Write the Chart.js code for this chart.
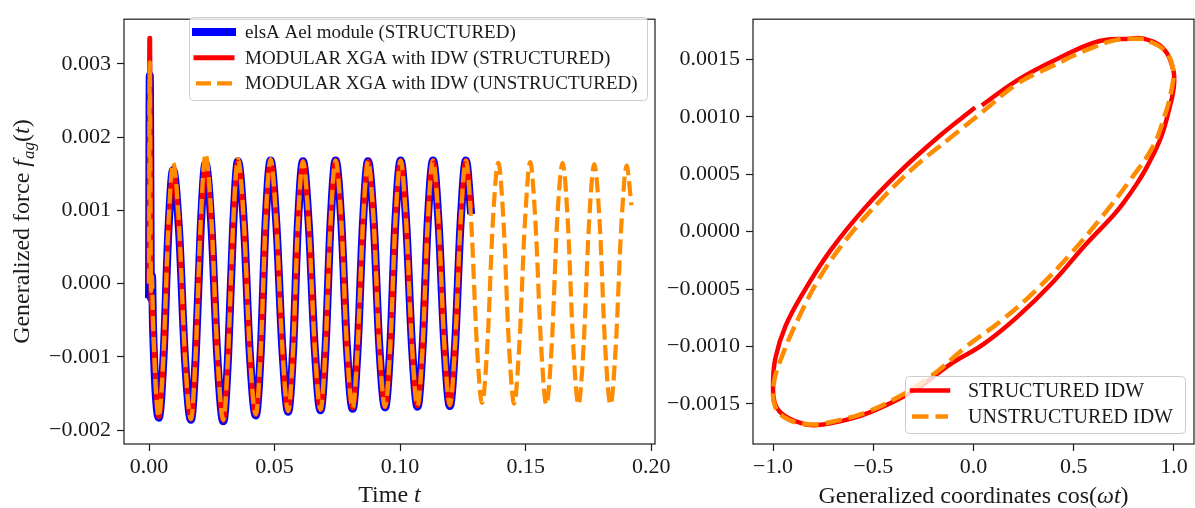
<!DOCTYPE html>
<html>
<head>
<meta charset="utf-8">
<title>Generalized force</title>
<script src="https://cdn.jsdelivr.net/npm/chart.js@4/dist/chart.umd.min.js"></script>
<style>
  html, body { margin: 0; padding: 0; background: #fff; }
  #page { position: relative; width: 1195px; height: 508px; overflow: hidden; }
  #forceChart { position: absolute; left: 0; top: 0; }
  #loopChart { position: absolute; left: 660px; top: 0; }
</style>
</head>
<body>
<div id="page">
  <canvas id="forceChart" width="690" height="508"></canvas>
  <canvas id="loopChart" width="535" height="508"></canvas>
</div>
<script>
// ---- left panel: generalized force against time ----
const timeSteps = [
  0, 0.0003, 0.0008, 0.0012, 0.0016,
  0.0039, 0.0058, 0.0077, 0.0096, 0.0120, 0.0143,
  0.0167, 0.0186, 0.0206, 0.0225, 0.0249, 0.0272,
  0.0296, 0.0315, 0.0335, 0.0354, 0.0378, 0.0401,
  0.0425, 0.0445, 0.0464, 0.0484, 0.0507, 0.0531,
  0.0554, 0.0574, 0.0593, 0.0613, 0.0636, 0.0660,
  0.0683, 0.0703, 0.0723, 0.0743, 0.0766, 0.0788,
  0.0811, 0.0831, 0.0852, 0.0872, 0.0895, 0.0917,
  0.0940, 0.0961, 0.0981, 0.1002, 0.1024, 0.1047,
  0.1069, 0.1090, 0.1110, 0.1131, 0.1153, 0.1176,
  0.1198, 0.1219, 0.1241, 0.1262, 0.1283, 0.1305,
  0.1326, 0.1348, 0.1369, 0.1391, 0.1412, 0.1433,
  0.1454, 0.1475, 0.1497, 0.1518, 0.1539, 0.1561,
  0.1582, 0.1604, 0.1625, 0.1647, 0.1668, 0.1689,
  0.1710, 0.1731, 0.1752, 0.1773, 0.1795, 0.1816,
  0.1838, 0.1859, 0.1881, 0.1902, 0.1921
];

// elsA Ael module (structured), stops at t = 0.1283
const forceElsA = [
  -0.0002, 0.00284, -0.0002, 0.0001, -0.0006,
  -0.00183, -0.00099, 0.00071, 0.00155, 0.00070, -0.00101,
  -0.00186, -0.00099, 0.00077, 0.00164, 0.00076, -0.00100,
  -0.00188, -0.00099, 0.00078, 0.00167, 0.00080, -0.00093,
  -0.00180, -0.00093, 0.00081, 0.00168, 0.00082, -0.00089,
  -0.00175, -0.00090, 0.00082, 0.00167, 0.00082, -0.00088,
  -0.00173, -0.00088, 0.00083, 0.00168, 0.00083, -0.00086,
  -0.00171, -0.00087, 0.00083, 0.00167, 0.00083, -0.00085,
  -0.00169, -0.00085, 0.00084, 0.00168, 0.00084, -0.00084,
  -0.00168, -0.00084, 0.00084, 0.00168, 0.00084, -0.00083,
  -0.00167, -0.00083, 0.00084, 0.00168, 0.00095
];

// MODULAR XGA with IDW (structured)
const forceXgaStructured = [
  0.0, 0.00335, -0.0002, -0.0003, -0.0006,
  -0.00182, -0.00098, 0.00071, 0.00154, 0.00070, -0.00100,
  -0.00185, -0.00098, 0.00077, 0.00165, 0.00077, -0.00099,
  -0.00187, -0.00098, 0.00079, 0.00167, 0.00080, -0.00092,
  -0.00179, -0.00092, 0.00081, 0.00168, 0.00082, -0.00089,
  -0.00174, -0.00090, 0.00082, 0.00167, 0.00082, -0.00087,
  -0.00172, -0.00087, 0.00083, 0.00168, 0.00083, -0.00086,
  -0.00170, -0.00086, 0.00083, 0.00167, 0.00083, -0.00085,
  -0.00168, -0.00085, 0.00084, 0.00168, 0.00084, -0.00084,
  -0.00167, -0.00084, 0.00084, 0.00168, 0.00084, -0.00083,
  -0.00166, -0.00083, 0.00084, 0.00168, 0.00103
];

// MODULAR XGA with IDW (unstructured)
const forceXgaUnstructured = [
  0.0, 0.00302, -0.0001, 0.0001, -0.0005,
  -0.00182, -0.00095, 0.00078, 0.00165, 0.00078, -0.00098,
  -0.00185, -0.00095, 0.00087, 0.00177, 0.00086, -0.00095,
  -0.00186, -0.00097, 0.00081, 0.00170, 0.00083, -0.00091,
  -0.00178, -0.00091, 0.00083, 0.00170, 0.00084, -0.00088,
  -0.00174, -0.00089, 0.00082, 0.00167, 0.00082, -0.00087,
  -0.00172, -0.00087, 0.00083, 0.00168, 0.00084, -0.00086,
  -0.00170, -0.00086, 0.00083, 0.00167, 0.00083, -0.00084,
  -0.00168, -0.00084, 0.00084, 0.00168, 0.00084, -0.00083,
  -0.00167, -0.00083, 0.00084, 0.00168, 0.00085, -0.00083,
  -0.00166, -0.00083, 0.00085, 0.00168, 0.00085, -0.00080,
  -0.00163, -0.00081, 0.00083, 0.00165, 0.00083, -0.00082,
  -0.00164, -0.00082, 0.00084, 0.00166, 0.00083, -0.00082,
  -0.00165, -0.00083, 0.00083, 0.00165, 0.00083, -0.00083,
  -0.00165, -0.00083, 0.00081, 0.00163, 0.00081, -0.00083,
  -0.00165, -0.00084, 0.00080, 0.00161, 0.00107
];

const timeTicks = [0, 0.05, 0.10, 0.15, 0.20];
const forceTicks = [-0.002, -0.001, 0, 0.001, 0.002, 0.003];

// ---- right panel: force against cos(wt) ----
const coordLoopStructured = [
  0.042, 0.220, 0.425, 0.629, 0.782, 0.850, 0.944, 0.995, 1.000, 0.978,
  0.935, 0.867, 0.816, 0.748, 0.697, 0.561, 0.391, 0.220, 0.050, -0.120,
  -0.273, -0.375, -0.511, -0.614, -0.750, -0.835, -0.937, -0.988, -1.000, -0.988,
  -0.937, -0.852, -0.716, -0.545, -0.375, -0.171, 0.008
];
const forceLoopStructured = [
  0.00110, 0.00132, 0.00151, 0.00166, 0.00168, 0.00168, 0.00160, 0.00142, 0.00127, 0.00108,
  0.00082, 0.00057, 0.00042, 0.00025, 0.00014, -0.00011, -0.00045, -0.00074, -0.00098, -0.00116,
  -0.00136, -0.00146, -0.00157, -0.00163, -0.00168, -0.00168, -0.00161, -0.00151, -0.00133, -0.00110,
  -0.00082, -0.00054, -0.00017, 0.00020, 0.00051, 0.00083, 0.00108
];

const coordLoopUnstructured = [
  0.850, 0.714, 0.561, 0.391, 0.220, 0.050, -0.120, -0.290, -0.460, -0.631,
  -0.767, -0.869, -0.954, -0.997, -0.988, -0.920, -0.800, -0.716, -0.545, -0.375,
  -0.205, -0.035, 0.135, 0.306, 0.476, 0.646, 0.782, 0.895, 0.950, 0.986,
  0.995, 0.952, 0.850
];
const forceLoopUnstructured = [
  0.00168, 0.00167, 0.00158, 0.00144, 0.00129, 0.00105, 0.00081, 0.00057, 0.00028, -0.00006,
  -0.00040, -0.00074, -0.00108, -0.00133, -0.00153, -0.00164, -0.00168, -0.00166, -0.00158, -0.00144,
  -0.00125, -0.00100, -0.00078, -0.00052, -0.00021, 0.00014, 0.00045, 0.00074, 0.00099, 0.00122,
  0.00142, 0.00158, 0.00168
];

const coordTicks = [-1, -0.5, 0, 0.5, 1];
const loopForceTicks = [-0.0015, -0.001, -0.0005, 0, 0.0005, 0.001, 0.0015];

// ---------------------------------------------------------------
const SERIF = '"Liberation Serif", "DejaVu Serif", serif';
const INK = '#1a1a1a';

function tickText(v, digits) {
  if (Math.abs(v) < 1e-12) v = 0;
  return v.toFixed(digits).replace('-', '\u2212');
}

function points(xs, ys) {
  return ys.map((y, i) => ({ x: xs[i], y: y }));
}

// text with italic / subscript pieces, centred on (x, y)
function drawRich(ctx, parts, x, y, angle) {
  ctx.save();
  ctx.translate(x, y);
  ctx.rotate(angle);
  ctx.textBaseline = 'alphabetic';
  ctx.textAlign = 'left';
  ctx.fillStyle = INK;
  let total = 0;
  parts.forEach(p => {
    ctx.font = p.font;
    p.w = ctx.measureText(p.text).width + (p.gap || 0);
    total += p.w;
  });
  let u = -total / 2;
  parts.forEach(p => {
    ctx.font = p.font;
    ctx.fillText(p.text, u, p.dy || 0);
    u += p.w;
  });
  ctx.restore();
}

const axesFrame = {
  id: 'axesFrame',
  afterDatasetsDraw(chart) {
    const { ctx, chartArea: a } = chart;
    ctx.save();
    ctx.strokeStyle = INK;
    ctx.lineWidth = 1.2;
    ctx.strokeRect(a.left, a.top, a.right - a.left, a.bottom - a.top);
    ctx.restore();
  }
};

const boxLegend = {
  id: 'boxLegend',
  afterDraw(chart, args, o) {
    const ctx = chart.ctx;
    ctx.save();
    ctx.beginPath();
    ctx.roundRect(o.left, o.top, o.width, o.height, 4);
    ctx.fillStyle = 'rgba(255,255,255,0.8)';
    ctx.fill();
    ctx.strokeStyle = '#cccccc';
    ctx.lineWidth = 1;
    ctx.stroke();
    chart.data.datasets.forEach((ds, i) => {
      const cy = o.top + o.firstRow + i * o.rowGap;
      ctx.beginPath();
      ctx.setLineDash(ds.borderDash || []);
      ctx.lineCap = ds.borderDash ? 'butt' : 'square';
      ctx.lineWidth = ds.borderWidth;
      ctx.strokeStyle = ds.borderColor;
      ctx.moveTo(o.handleFrom, cy);
      ctx.lineTo(o.handleTo, cy);
      ctx.stroke();
      ctx.setLineDash([]);
      ctx.fillStyle = INK;
      ctx.font = o.fontSize + 'px ' + SERIF;
      ctx.textBaseline = 'middle';
      ctx.fillText(ds.label, o.textX, cy + 1);
    });
    ctx.restore();
  }
};

const mathTitles = {
  id: 'mathTitles',
  afterDraw(chart, args, o) {
    const a = chart.chartArea;
    if (o.x) drawRich(chart.ctx, o.x, (a.left + a.right) / 2, o.xBaseline, 0);
    if (o.y) drawRich(chart.ctx, o.y, o.yBaseline, (a.top + a.bottom) / 2, -Math.PI / 2);
  }
};

const roman = '24px ' + SERIF;
const italic = 'italic 24px ' + SERIF;
const subItalic = 'italic 17px ' + SERIF;

function linearAxis(min, max, tickValues, digits, padding, size, isX) {
  return {
    type: 'linear',
    min: min,
    max: max,
    bounds: 'data',
    afterBuildTicks: scale => { scale.ticks = tickValues.map(v => ({ value: v })); },
    afterFit: scale => { if (isX) scale.height = size; else scale.width = size; },
    grid: { drawOnChartArea: false, drawTicks: true, tickLength: 7, tickWidth: 1.2, tickColor: INK },
    border: { display: false },
    title: { display: false },
    ticks: {
      autoSkip: false,
      maxRotation: 0,
      padding: padding,
      color: INK,
      font: { family: SERIF, size: 22 },
      callback: v => tickText(v, digits)
    }
  };
}

// higher "order" is painted first, so the dashed series ends up on top
new Chart(document.getElementById('forceChart'), {
  type: 'line',
  data: {
    datasets: [{
      label: 'elsA Ael module (STRUCTURED)',
      data: points(timeSteps, forceElsA),
      borderColor: '#0000ff',
      borderWidth: 8,
      order: 3
    }, {
      label: 'MODULAR XGA with IDW (STRUCTURED)',
      data: points(timeSteps, forceXgaStructured),
      borderColor: '#ff0000',
      borderWidth: 5,
      order: 2
    }, {
      label: 'MODULAR XGA with IDW (UNSTRUCTURED)',
      data: points(timeSteps, forceXgaUnstructured),
      borderColor: '#ff8c00',
      borderWidth: 4.2,
      borderDash: [15, 6],
      order: 1
    }]
  },
  options: {
    responsive: false,
    animation: false,
    devicePixelRatio: 1,
    layout: { padding: { top: 9, right: 35, bottom: 0, left: 0 } },
    elements: {
      point: { radius: 0 },
      line: { cubicInterpolationMode: 'monotone', borderJoinStyle: 'round', fill: false }
    },
    scales: {
      x: linearAxis(-0.00996, 0.2015, timeTicks, 2, 3, 64, true),
      y: linearAxis(-0.00219, 0.00361, forceTicks, 3, 6, 124, false)
    },
    plugins: {
      legend: { display: false },
      tooltip: { enabled: false },
      boxLegend: {
        left: 189.5, top: 17.5, width: 458, height: 83,
        firstRow: 14.5, rowGap: 25.7,
        handleFrom: 196, handleTo: 232, textX: 245, fontSize: 19
      },
      mathTitles: {
        x: [{ text: 'Time ', font: roman }, { text: 't', font: italic }],
        xBaseline: 502,
        y: [
          { text: 'Generalized force ', font: roman },
          { text: 'f', font: italic, gap: 1 },
          { text: 'ag', font: subItalic, dy: 5 },
          { text: '(', font: roman },
          { text: 't', font: italic },
          { text: ')', font: roman }
        ],
        yBaseline: 28.5
      }
    }
  },
  plugins: [axesFrame, boxLegend, mathTitles]
});

new Chart(document.getElementById('loopChart'), {
  type: 'line',
  data: {
    datasets: [{
      label: 'STRUCTURED IDW',
      data: points(coordLoopStructured, forceLoopStructured),
      borderColor: '#ff0000',
      borderWidth: 4.5,
      order: 2
    }, {
      label: 'UNSTRUCTURED IDW',
      data: points(coordLoopUnstructured, forceLoopUnstructured),
      borderColor: '#ff8c00',
      borderWidth: 4.5,
      borderDash: [16.5, 7],
      order: 1
    }]
  },
  options: {
    responsive: false,
    animation: false,
    devicePixelRatio: 1,
    layout: { padding: { top: 9, right: 1, bottom: 0, left: 0 } },
    elements: {
      point: { radius: 0 },
      line: { tension: 0.4, borderJoinStyle: 'round', fill: false }
    },
    scales: {
      x: linearAxis(-1.1, 1.1, coordTicks, 1, 3, 64, true),
      y: linearAxis(-0.00185, 0.00185, loopForceTicks, 4, 6, 93, false)
    },
    plugins: {
      legend: { display: false },
      tooltip: { enabled: false },
      boxLegend: {
        left: 245.5, top: 376.5, width: 280, height: 57,
        firstRow: 14, rowGap: 26,
        handleFrom: 252, handleTo: 288, textX: 308, fontSize: 20
      },
      mathTitles: {
        x: [
          { text: 'Generalized coordinates cos(', font: roman },
          { text: '\u03c9', font: italic },
          { text: 't', font: italic },
          { text: ')', font: roman }
        ],
        xBaseline: 502.5
      }
    }
  },
  plugins: [axesFrame, boxLegend, mathTitles]
});
</script>
</body>
</html>
